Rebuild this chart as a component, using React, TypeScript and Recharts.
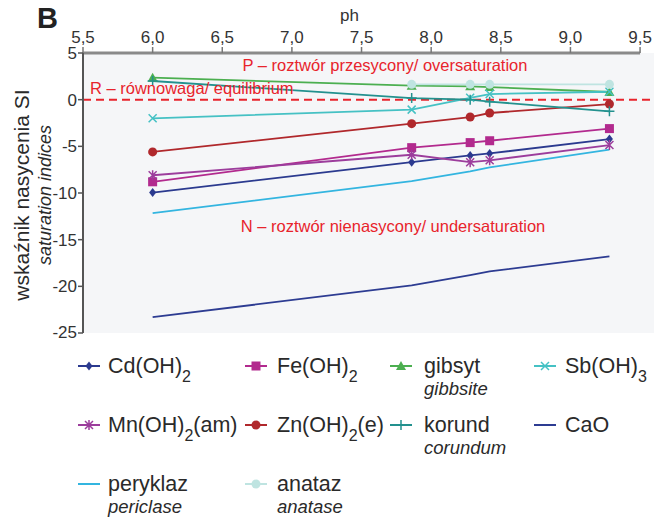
import React from 'react';
import { LineChart, Line, XAxis, YAxis, CartesianGrid, ReferenceLine } from 'recharts';

// pH of the sampling points
const PH = [6.0, 7.86, 8.28, 8.42, 9.28];

// saturation indices (SI) per mineral
const CD_OH2 = [-9.95, -6.7, -5.97, -5.76, -4.22];
const FE_OH2 = [-8.8, -5.14, -4.6, -4.4, -3.1];
const GIBSYT = [2.36, 1.5, 1.43, 1.35, 0.82];
const SB_OH3 = [-2.0, -1.07, 0.2, 0.6, 0.85];
const MN_OH2 = [-8.1, -5.9, -6.7, -6.5, -4.86];
const ZN_OH2 = [-5.6, -2.57, -1.86, -1.43, -0.47];
const KORUND = [2.0, 0.17, 0.0, -0.21, -1.25];
const CAO = [-23.3, -19.9, -18.8, -18.4, -16.8];
const PERYKLAZ = [-12.15, -8.72, -7.68, -7.26, -5.36];
const ANATAZ = [null, 1.64, 1.64, 1.64, 1.64];

const X_TICKS = [5.5, 6.0, 6.5, 7.0, 7.5, 8.0, 8.5, 9.0, 9.5];
const Y_TICKS = [5, 0, -5, -10, -15, -20, -25];

const FONT = '"Liberation Sans", Arial, sans-serif';
const RED = '#e8242c';

const SERIES = [
  { key: 'cd', label: 'Cd(OH)', sub: '2', tail: '', italic: '', values: CD_OH2, color: '#2b3a8f', shape: 'diamond' },
  { key: 'fe', label: 'Fe(OH)', sub: '2', tail: '', italic: '', values: FE_OH2, color: '#b22a8e', shape: 'square' },
  { key: 'gib', label: 'gibsyt', sub: '', tail: '', italic: 'gibbsite', values: GIBSYT, color: '#4caf50', shape: 'triangle' },
  { key: 'sb', label: 'Sb(OH)', sub: '3', tail: '', italic: '', values: SB_OH3, color: '#45c1c4', shape: 'cross' },
  { key: 'mn', label: 'Mn(OH)', sub: '2', tail: '(am)', italic: '', values: MN_OH2, color: '#9c3d9c', shape: 'star' },
  { key: 'zn', label: 'Zn(OH)', sub: '2', tail: '(e)', italic: '', values: ZN_OH2, color: '#b0282c', shape: 'circle' },
  { key: 'kor', label: 'korund', sub: '', tail: '', italic: 'corundum', values: KORUND, color: '#23918e', shape: 'plus' },
  { key: 'cao', label: 'CaO', sub: '', tail: '', italic: '', values: CAO, color: '#2d3c92', shape: 'none' },
  { key: 'per', label: 'peryklaz', sub: '', tail: '', italic: 'periclase', values: PERYKLAZ, color: '#33b5e0', shape: 'none' },
  { key: 'ana', label: 'anataz', sub: '', tail: '', italic: 'anatase', values: ANATAZ, color: '#bfe4e1', shape: 'circle' },
];

const data = PH.map((ph, i) => {
  const row: Record<string, number | null> = { ph };
  SERIES.forEach(s => { row[s.key] = s.values[i]; });
  return row;
});

function Marker({ shape, color, cx, cy }: { shape: string; color: string; cx: number; cy: number }) {
  switch (shape) {
    case 'diamond':
      return <path d={`M${cx},${cy - 4.5}L${cx + 3.5},${cy}L${cx},${cy + 4.5}L${cx - 3.5},${cy}Z`} fill={color} />;
    case 'square':
      return <rect x={cx - 4.5} y={cy - 4.5} width={9} height={9} fill={color} />;
    case 'triangle':
      return <path d={`M${cx},${cy - 5}L${cx + 5},${cy + 4}L${cx - 5},${cy + 4}Z`} fill={color} />;
    case 'cross':
      return <path d={`M${cx - 4},${cy - 4}L${cx + 4},${cy + 4}M${cx + 4},${cy - 4}L${cx - 4},${cy + 4}`} stroke={color} strokeWidth={1.5} />;
    case 'star':
      return <path d={`M${cx - 4},${cy - 4}L${cx + 4},${cy + 4}M${cx + 4},${cy - 4}L${cx - 4},${cy + 4}M${cx},${cy - 5}L${cx},${cy + 5}`} stroke={color} strokeWidth={1.5} />;
    case 'circle':
      return <circle cx={cx} cy={cy} r={4.5} fill={color} />;
    case 'plus':
      return <path d={`M${cx - 5},${cy}L${cx + 5},${cy}M${cx},${cy - 5}L${cx},${cy + 5}`} stroke={color} strokeWidth={1.5} />;
    default:
      return null;
  }
}

const dotFor = (shape: string, color: string) => (props: any) => {
  const { cx, cy, index, value } = props;
  if (shape === 'none' || cx == null || cy == null || value == null) return <g key={`d-${index}`} />;
  return (
    <g key={`d-${index}`}>
      <Marker shape={shape} color={color} cx={cx} cy={cy} />
    </g>
  );
};

// legend grid: column x of icon centre / text start, row y of text centre
const COL_ICON = [89, 256, 401, 545];
const COL_TEXT = [108, 277, 424, 565];
const ROW_Y = [366, 425, 484];

function LegendItem({ s, idx }: { s: (typeof SERIES)[number]; idx: number }) {
  const col = idx % 4;
  const row = Math.floor(idx / 4);
  const y = ROW_Y[row];
  return (
    <>
      <svg style={{ position: 'absolute', left: COL_ICON[col] - 11, top: y - 8, overflow: 'visible' }} width={22} height={16}>
        <line x1={0} y1={8} x2={22} y2={8} stroke={s.color} strokeWidth={2} />
        {s.shape !== 'none' && <Marker shape={s.shape} color={s.color} cx={11} cy={8} />}
      </svg>
      <div style={{ position: 'absolute', left: COL_TEXT[col], top: y - 13, fontSize: 21.5, lineHeight: '26px', color: '#2a2a2a', whiteSpace: 'nowrap' }}>
        {s.label}
        {s.sub && <span style={{ fontSize: 16, position: 'relative', top: 9 }}>{s.sub}</span>}
        {s.tail}
      </div>
      {s.italic && (
        <div style={{ position: 'absolute', left: COL_TEXT[col], top: y + 12, fontSize: 18.5, lineHeight: '22px', fontStyle: 'italic', color: '#2a2a2a' }}>
          {s.italic}
        </div>
      )}
    </>
  );
}

export default function App() {
  return (
    <div style={{ position: 'absolute', left: 0, top: 0, width: 662, height: 518, background: '#fff', fontFamily: FONT }}>
      <LineChart width={662} height={342} data={data} margin={{ top: 0, right: 8, bottom: 9, left: 0 }}>
        <CartesianGrid fill="#f5f6f8" horizontal={false} vertical={false} />
        <XAxis
          type="number"
          dataKey="ph"
          orientation="top"
          domain={[5.5, 9.6]}
          ticks={X_TICKS}
          height={53}
          axisLine={false}
          tickSize={6}
          tickMargin={4}
          tickLine={{ stroke: '#777', strokeWidth: 1.5 }}
          tick={{ fill: '#333', fontSize: 17, fontFamily: FONT }}
          tickFormatter={(v: number) => v.toFixed(1).replace('.', ',')}
        />
        <YAxis
          type="number"
          domain={[-25, 5]}
          ticks={Y_TICKS}
          width={83}
          axisLine={{ stroke: '#555', strokeWidth: 2 }}
          tickLine={{ stroke: '#555', strokeWidth: 1.5 }}
          tickSize={5}
          tickMargin={1}
          tick={{ fill: '#333', fontSize: 17, fontFamily: FONT }}
        />
        <ReferenceLine segment={[{ x: 5.5, y: 5 }, { x: 9.5, y: 5 }]} stroke="#8a8a8a" strokeWidth={3} />
        <ReferenceLine y={0} stroke={RED} strokeWidth={2} strokeDasharray="8 5" />
        {SERIES.map(s => (
          <Line
            key={s.key}
            dataKey={s.key}
            stroke={s.color}
            strokeWidth={1.8}
            dot={dotFor(s.shape, s.color)}
            activeDot={false}
            isAnimationActive={false}
          />
        ))}
      </LineChart>

      <div style={{ position: 'absolute', left: 37, top: 2, fontSize: 29, fontWeight: 'bold', color: '#222' }}>B</div>
      <div style={{ position: 'absolute', left: 340, top: 6, fontSize: 17, color: '#333' }}>ph</div>

      <div style={{ position: 'absolute', left: 22, top: 195, transform: 'translate(-50%, -50%) rotate(-90deg)', fontSize: 21, color: '#2a2a2a', whiteSpace: 'nowrap' }}>
        wskaźnik nasycenia SI
      </div>
      <div style={{ position: 'absolute', left: 45, top: 195, transform: 'translate(-50%, -50%) rotate(-90deg)', fontSize: 18, fontStyle: 'italic', color: '#2a2a2a', whiteSpace: 'nowrap' }}>
        saturation indices
      </div>

      <div style={{ position: 'absolute', left: 385, top: 65, transform: 'translate(-50%, -50%)', fontSize: 16.5, color: RED, whiteSpace: 'nowrap' }}>
        P – roztwór przesycony/ oversaturation
      </div>
      <div style={{ position: 'absolute', left: 90, top: 88, transform: 'translateY(-50%)', fontSize: 16.5, color: RED, whiteSpace: 'nowrap' }}>
        R – równowaga/ equilibrium
      </div>
      <div style={{ position: 'absolute', left: 393, top: 226, transform: 'translate(-50%, -50%)', fontSize: 16.5, color: RED, whiteSpace: 'nowrap' }}>
        N – roztwór nienasycony/ undersaturation
      </div>

      {SERIES.map((s, i) => <LegendItem key={s.key} s={s} idx={i} />)}
    </div>
  );
}
